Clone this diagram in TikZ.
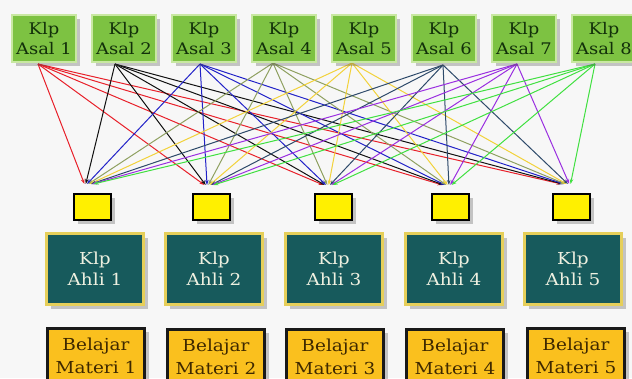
\documentclass[tikz,border=0pt]{standalone}
\usepackage{fontspec}
\setmainfont{DejaVu Serif}[FakeStretch=1.12]
\usetikzlibrary{shadows,arrows.meta,calc}
\definecolor{bg}{HTML}{F7F7F7}
\definecolor{asalfill}{HTML}{7DC242}
\definecolor{asalline}{HTML}{C9E8A2}
\definecolor{asaltext}{HTML}{12300A}
\definecolor{smallfill}{HTML}{FFF000}
\definecolor{ahlifill}{HTML}{175A5C}
\definecolor{ahliline}{HTML}{E6CF5A}
\definecolor{ahlitext}{HTML}{EEF0E0}
\definecolor{belfill}{HTML}{FAC01E}
\definecolor{beltext}{HTML}{3E2800}
\definecolor{cA}{HTML}{E8202A}
\definecolor{cB}{HTML}{111111}
\definecolor{cC}{HTML}{2222C8}
\definecolor{cD}{HTML}{8FA060}
\definecolor{cE}{HTML}{F2D23A}
\definecolor{cF}{HTML}{2E4A6A}
\definecolor{cG}{HTML}{9A2FE0}
\definecolor{cH}{HTML}{40E040}
\tikzset{
  shad/.style={drop shadow={shadow xshift=4pt,shadow yshift=-4pt,opacity=0.3,fill=black!70}},
  asal/.style={shad,fill=asalfill,draw=asalline,line width=1.5pt,minimum width=64pt,minimum height=47pt,inner sep=0pt,align=center,text=asaltext,font=\fontsize{16}{20}\selectfont},
  smallbox/.style={shad,fill=smallfill,draw=black,line width=2pt,minimum width=37pt,minimum height=26pt,inner sep=0pt},
  ahli/.style={shad,fill=ahlifill,draw=ahliline,line width=2.5pt,minimum width=97pt,minimum height=71pt,inner sep=0pt,align=center,text=ahlitext,font=\fontsize{16.5}{21}\selectfont},
  belajar/.style={shad,fill=belfill,draw=black!90,line width=2.5pt,minimum width=97pt,minimum height=55pt,inner sep=0pt,align=center,text=beltext,font=\fontsize{16.5}{23}\selectfont},
  arr/.style={line width=1pt,-{Stealth[length=5pt,width=3.5pt]}}
}
\begin{document}
\begin{tikzpicture}[x=1pt,y=-1pt]
\clip (0,0) rectangle (632,378);
\fill[bg] (0,0) rectangle (632,378);
% source and target points
\coordinate (s1) at (38,64);
\coordinate (s2) at (115,64);
\coordinate (s3) at (200,64);
\coordinate (s4) at (273,63);
\coordinate (s5) at (352,63);
\coordinate (s6) at (443,65);
\coordinate (s7) at (517,64);
\coordinate (s8) at (595,64);
\coordinate (t1) at (89,184);
\coordinate (t2) at (209,185);
\coordinate (t3) at (328,185);
\coordinate (t4) at (447,185);
\coordinate (t5) at (566,184);
% connectors
\foreach \j/\c in {1/cA,2/cB,3/cC,4/cD,5/cE,6/cF,7/cG,8/cH}{
  \foreach \i in {1,...,5}{
    \draw[arr,\c] (s\j) -- ($(t\i)+({(\j-4.5)*1.3},0)$);
  }
}
% Asal boxes
\node[asal] (a1) at (44,38.5) {Klp\\Asal 1};
\node[asal] (a2) at (124,38.5) {Klp\\Asal 2};
\node[asal] (a3) at (204,38.5) {Klp\\Asal 3};
\node[asal] (a4) at (284,38.5) {Klp\\Asal 4};
\node[asal] (a5) at (364,38.5) {Klp\\Asal 5};
\node[asal] (a6) at (444,38.5) {Klp\\Asal 6};
\node[asal] (a7) at (524,38.5) {Klp\\Asal 7};
\node[asal] (a8) at (604,38.5) {Klp\\Asal 8};
% small yellow boxes
\node[smallbox] (y1) at (92,206.5) {};
\node[smallbox] (y2) at (211,206.5) {};
\node[smallbox] (y3) at (333,206.5) {};
\node[smallbox] (y4) at (450,206.5) {};
\node[smallbox] (y5) at (571,206.5) {};
% Ahli boxes
\node[ahli] (h1) at (95,269) {Klp\\Ahli 1};
\node[ahli] (h2) at (214,269) {Klp\\Ahli 2};
\node[ahli] (h3) at (334,269) {Klp\\Ahli 3};
\node[ahli] (h4) at (454,269) {Klp\\Ahli 4};
\node[ahli] (h5) at (573,269) {Klp\\Ahli 5};
% Belajar boxes
\node[belajar,anchor=north] (b1) at (96,327) {Belajar\\Materi 1};
\node[belajar,anchor=north] (b2) at (216,328) {Belajar\\Materi 2};
\node[belajar,anchor=north] (b3) at (335,328) {Belajar\\Materi 3};
\node[belajar,anchor=north] (b4) at (455,328) {Belajar\\Materi 4};
\node[belajar,anchor=north] (b5) at (576,327) {Belajar\\Materi 5};
\end{tikzpicture}
\end{document}
